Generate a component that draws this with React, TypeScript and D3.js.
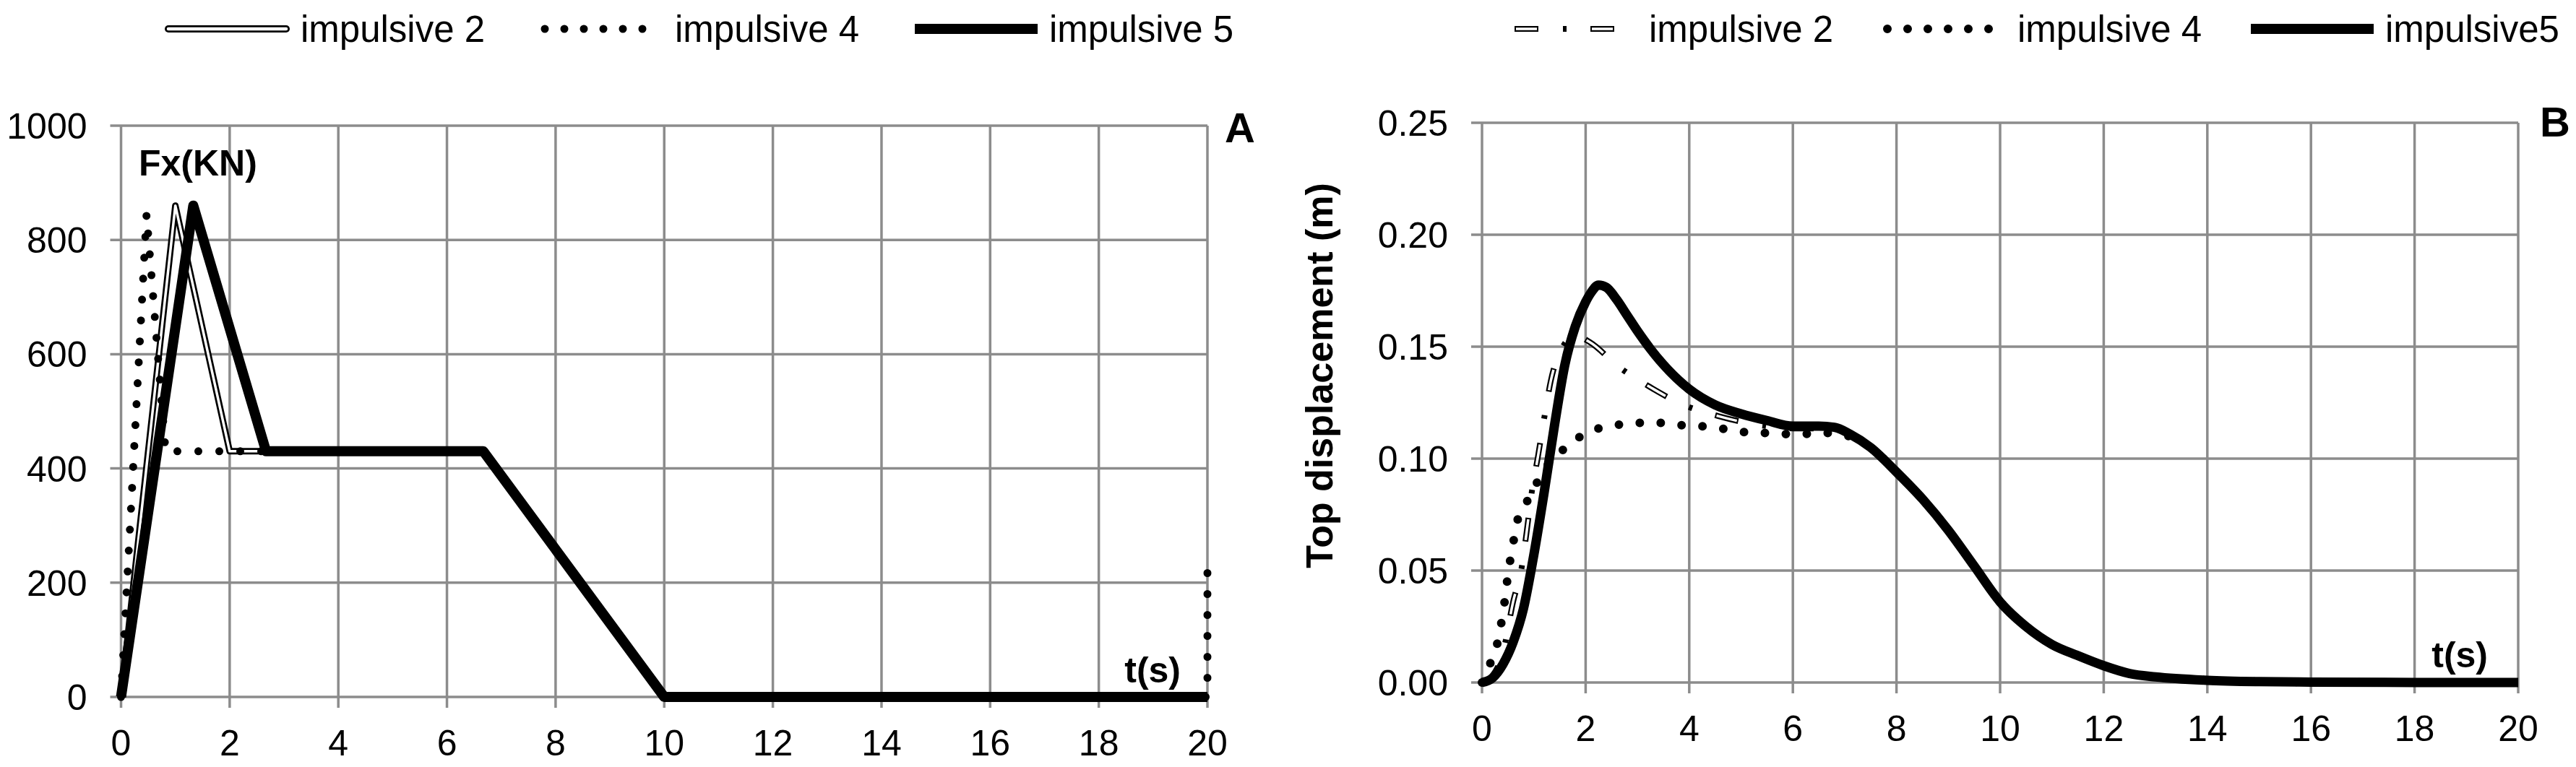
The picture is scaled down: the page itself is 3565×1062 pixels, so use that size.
import { curveLinear, curveMonotoneX, format, line, scaleLinear, select } from 'd3';
import React, { useEffect, useRef } from 'react';

// panel A : impulsive force Fx (kN) against time (s)
const forceT2 = [0, 1.0, 2.0, 6.67, 10, 20];
const forceV2 = [0, 860, 430, 430, 0, 0];
const forceT4 = [0, 0.47, 0.82, 6.67, 10, 20, 20];
const forceV4 = [0, 845, 430, 430, 0, 0, 225];
const forceT5 = [0, 1.33, 2.67, 6.67, 10, 20];
const forceV5 = [0, 860, 430, 430, 0, 0];

// panel B : top displacement (m) against time (s)
const dispT2 = [0, 0.2, 0.4, 0.6, 0.77, 0.86, 0.96, 1.08, 1.2, 1.33, 1.56, 1.8, 2.08, 2.64, 3.24, 3.89, 4.56, 5.0, 5.5, 6.0, 6.5, 6.9, 7.5, 8.0, 8.5, 9.0, 9.5, 10, 10.5, 11, 11.5, 12, 12.5, 13, 14, 15, 16, 18, 20];
const dispV2 = [0, 0.003, 0.013, 0.036, 0.052, 0.067, 0.085, 0.101, 0.118, 0.135, 0.15, 0.155, 0.152, 0.141, 0.132, 0.124, 0.119, 0.1165, 0.1145, 0.1135, 0.1135, 0.113, 0.105, 0.094, 0.082, 0.068, 0.052, 0.036, 0.025, 0.017, 0.012, 0.0075, 0.004, 0.0025, 0.001, 0.0004, 0.0002, 0, 0];
const dispT4 = [0, 0.15, 0.29, 0.36, 0.43, 0.5, 0.6, 0.68, 0.85, 1.03, 1.2, 1.52, 1.84, 2.19, 2.59, 3.0, 3.4, 3.8, 4.21, 4.61, 5.0, 5.4, 5.8, 6.2, 6.6, 6.9, 7.5, 8.0, 8.5, 9.0, 9.5, 10, 10.5, 11, 11.5, 12, 12.5, 13, 14, 15, 16, 18, 20];
const dispV4 = [0, 0.008, 0.017, 0.025, 0.035, 0.048, 0.062, 0.072, 0.08, 0.088, 0.095, 0.103, 0.109, 0.113, 0.115, 0.116, 0.116, 0.115, 0.1145, 0.1135, 0.112, 0.1115, 0.111, 0.111, 0.1115, 0.111, 0.105, 0.094, 0.082, 0.068, 0.052, 0.036, 0.025, 0.017, 0.012, 0.0075, 0.004, 0.0025, 0.001, 0.0004, 0.0002, 0, 0];
const dispT5 = [0, 0.2, 0.4, 0.6, 0.8, 1.0, 1.2, 1.4, 1.6, 1.8, 2.0, 2.1, 2.25, 2.4, 2.6, 2.8, 3.0, 3.25, 3.5, 4.0, 4.5, 5.0, 5.5, 6.0, 6.5, 6.8, 7.1, 7.5, 8.0, 8.5, 9.0, 9.5, 10, 10.5, 11, 11.5, 12, 12.5, 13, 14, 15, 16, 18, 20];
const dispV5 = [0, 0.002, 0.008, 0.018, 0.033, 0.057, 0.085, 0.115, 0.142, 0.159, 0.17, 0.174, 0.1775, 0.1765, 0.171, 0.164, 0.157, 0.149, 0.142, 0.131, 0.124, 0.12, 0.117, 0.1145, 0.1145, 0.114, 0.111, 0.105, 0.094, 0.082, 0.068, 0.052, 0.036, 0.025, 0.017, 0.012, 0.0075, 0.004, 0.0025, 0.001, 0.0004, 0.0002, 0, 0];

const timeTicks = [0, 2, 4, 6, 8, 10, 12, 14, 16, 18, 20];
const forceTicks = [0, 200, 400, 600, 800, 1000];
const dispTicks = [0, 0.05, 0.1, 0.15, 0.2, 0.25];

const legendA = ['impulsive 2', 'impulsive 4', 'impulsive 5'];
const legendB = ['impulsive 2', 'impulsive 4', 'impulsive5'];

const FONT = '"Liberation Sans", Arial, Helvetica, sans-serif';
const GRID = '#8c8c8c';

type Pt = [number, number];
const zip = (t: number[], v: number[]): Pt[] => t.map((d, i) => [d, v[i]]);

const App = () => {
  const svgRef = useRef<SVGSVGElement>(null);

  useEffect(() => {
    const svg = select(svgRef.current);
    svg.selectAll('*').remove();

    const drawGrid = (x: any, y: any, yTicks: number[], fmt: (d: number) => string) => {
      const [x0, x1] = x.range();
      const [y0, y1] = y.range();
      const g = svg.append('g');
      g.selectAll('line.h')
        .data(yTicks)
        .join('line')
        .attr('class', 'h')
        .attr('x1', x0 - 15)
        .attr('x2', x1)
        .attr('y1', (d: number) => y(d))
        .attr('y2', (d: number) => y(d))
        .attr('stroke', GRID)
        .attr('stroke-width', 3.5);
      g.selectAll('line.v')
        .data(timeTicks)
        .join('line')
        .attr('class', 'v')
        .attr('x1', (d: number) => x(d))
        .attr('x2', (d: number) => x(d))
        .attr('y1', y0 + 15)
        .attr('y2', y1)
        .attr('stroke', GRID)
        .attr('stroke-width', 3.5);
      g.selectAll('text.yl')
        .data(yTicks)
        .join('text')
        .attr('class', 'yl')
        .attr('x', x0 - 47)
        .attr('y', (d: number) => y(d))
        .attr('dy', '0.36em')
        .attr('text-anchor', 'end')
        .attr('font-family', FONT)
        .attr('font-size', 50)
        .text(fmt);
      g.selectAll('text.xl')
        .data(timeTicks)
        .join('text')
        .attr('class', 'xl')
        .attr('x', (d: number) => x(d))
        .attr('y', y0 + 81)
        .attr('text-anchor', 'middle')
        .attr('font-family', FONT)
        .attr('font-size', 50)
        .text((d: number) => String(d));
    };

    const label = (x: number, y: number, txt: string, size: number, anchor = 'start') =>
      svg
        .append('text')
        .attr('x', x)
        .attr('y', y)
        .attr('text-anchor', anchor)
        .attr('font-family', FONT)
        .attr('font-weight', 'bold')
        .attr('font-size', size)
        .text(txt);

    // ---------- panel A ----------
    const xA = scaleLinear().domain([0, 20]).range([167.5, 1671]);
    const yA = scaleLinear().domain([0, 1000]).range([965, 174]);
    drawGrid(xA, yA, forceTicks, (d) => String(d));

    const lineA = line<Pt>()
      .x((d) => xA(d[0]))
      .y((d) => yA(d[1]))
      .curve(curveLinear);

    const f2 = lineA(zip(forceT2, forceV2));
    svg.append('path').attr('d', f2).attr('fill', 'none').attr('stroke', '#000').attr('stroke-width', 9).attr('stroke-linejoin', 'round');
    svg.append('path').attr('d', f2).attr('fill', 'none').attr('stroke', '#fff').attr('stroke-width', 3.5).attr('stroke-linejoin', 'round');
    svg.append('path').attr('d', lineA(zip(forceT4, forceV4))).attr('fill', 'none').attr('stroke', '#000').attr('stroke-width', 11).attr('stroke-linecap', 'round').attr('stroke-dasharray', '0 29');
    svg.append('path').attr('d', lineA(zip(forceT5, forceV5))).attr('fill', 'none').attr('stroke', '#000').attr('stroke-width', 14).attr('stroke-linejoin', 'round');

    label(192, 243, 'Fx(KN)', 50);
    label(1634, 945, 't(s)', 50, 'end');
    label(1695, 197, 'A', 58);

    // ---------- panel B ----------
    const xB = scaleLinear().domain([0, 20]).range([2051, 3485]);
    const yB = scaleLinear().domain([0, 0.25]).range([945, 170]);
    drawGrid(xB, yB, dispTicks, format('.2f'));

    const lineB = line<Pt>()
      .x((d) => xB(d[0]))
      .y((d) => yB(d[1]))
      .curve(curveMonotoneX);

    const d2 = lineB(zip(dispT2, dispV2));
    svg.append('path').attr('d', d2).attr('fill', 'none').attr('stroke', '#000').attr('stroke-width', 8).attr('stroke-dasharray', '33 34 5 33');
    svg.append('path').attr('d', d2).attr('fill', 'none').attr('stroke', '#fff').attr('stroke-width', 3.5).attr('stroke-dasharray', '29 76').attr('stroke-dashoffset', -2);
    svg.append('path').attr('d', lineB(zip(dispT4, dispV4))).attr('fill', 'none').attr('stroke', '#000').attr('stroke-width', 12).attr('stroke-linecap', 'round').attr('stroke-dasharray', '0 29');
    svg.append('path').attr('d', lineB(zip(dispT5, dispV5))).attr('fill', 'none').attr('stroke', '#000').attr('stroke-width', 13).attr('stroke-linejoin', 'round');

    label(3443, 924, 't(s)', 50, 'end');
    label(3515, 189, 'B', 58);
    svg
      .append('text')
      .attr('transform', 'translate(1844,520) rotate(-90)')
      .attr('text-anchor', 'middle')
      .attr('font-family', FONT)
      .attr('font-weight', 'bold')
      .attr('font-size', 52)
      .text('Top displacement (m)');

    // ---------- legends ----------
    const LY = 40;
    const seg = (s: number, a: number, b: number) => `M${s + a},${LY}L${s + b},${LY}`;
    const legText = (x: number, txt: string) =>
      svg
        .append('text')
        .attr('x', x)
        .attr('y', LY)
        .attr('dy', '0.36em')
        .attr('font-family', FONT)
        .attr('font-size', 51)
        .text(txt);

    const startsA = [228, 746, 1264];
    svg.append('path').attr('d', seg(startsA[0], 5, 168)).attr('stroke', '#000').attr('stroke-width', 10).attr('stroke-linecap', 'round');
    svg.append('path').attr('d', seg(startsA[0], 5, 168)).attr('stroke', '#fff').attr('stroke-width', 4.5).attr('stroke-linecap', 'round');
    svg.append('path').attr('d', seg(startsA[1], 8, 150)).attr('stroke', '#000').attr('stroke-width', 11).attr('stroke-linecap', 'round').attr('stroke-dasharray', '0 27');
    svg.append('path').attr('d', seg(startsA[2], 2, 172)).attr('stroke', '#000').attr('stroke-width', 14);
    legendA.forEach((t, i) => legText(startsA[i] + 188, t));

    const startsB = [2094, 2604, 3113];
    svg.append('path').attr('d', seg(startsB[0], 2, 142)).attr('stroke', '#000').attr('stroke-width', 8).attr('stroke-dasharray', '33 34 5 33');
    svg.append('path').attr('d', seg(startsB[0], 2, 142)).attr('stroke', '#fff').attr('stroke-width', 3.5).attr('stroke-dasharray', '29 76').attr('stroke-dashoffset', -2);
    svg.append('path').attr('d', seg(startsB[1], 8, 152)).attr('stroke', '#000').attr('stroke-width', 12).attr('stroke-linecap', 'round').attr('stroke-dasharray', '0 28');
    svg.append('path').attr('d', seg(startsB[2], 2, 172)).attr('stroke', '#000').attr('stroke-width', 14);
    legendB.forEach((t, i) => legText(startsB[i] + 188, t));
  }, []);

  return (
    <div>
      <svg
        ref={svgRef}
        width={3565}
        height={1062}
        style={{ position: 'absolute', left: 0, top: 0, background: '#fff' }}
      ></svg>
    </div>
  );
};

export default App;
